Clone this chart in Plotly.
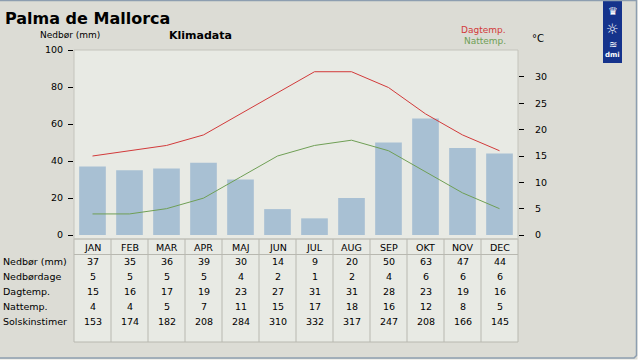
import plotly.graph_objects as go

months = ["JAN", "FEB", "MAR", "APR", "MAJ", "JUN", "JUL", "AUG", "SEP", "OKT", "NOV", "DEC"]
precip = [37, 35, 36, 39, 30, 14, 9, 20, 50, 63, 47, 44]
rain_days = [5, 5, 5, 5, 4, 2, 1, 2, 4, 6, 6, 6]
day_temp = [15, 16, 17, 19, 23, 27, 31, 31, 28, 23, 19, 16]
night_temp = [4, 4, 5, 7, 11, 15, 17, 18, 16, 12, 8, 5]
sunshine = [153, 174, 182, 208, 284, 310, 332, 317, 247, 208, 166, 145]
row_labels = ["Nedbør (mm)", "Nedbørdage", "Dagtemp.", "Nattemp.", "Solskinstimer"]
left_ticks = [0, 20, 40, 60, 80, 100]
right_ticks = [0, 5, 10, 15, 20, 25, 30]

W, H = 639, 360
L, R, T, B = 74, 518, 50, 239
BG = "#dcdcd5"
PBG = "#e8eae4"
FONT = "DejaVu Sans"
FS = 9.5


def px(x):
    return (x - L) / (R - L)


def py(y):
    return (B - y) / (B - T)


fig = go.Figure()
fig.add_trace(go.Bar(x=months, y=precip, marker=dict(color="#a8c0d3", line=dict(width=0)),
                     width=0.72, yaxis="y", showlegend=False))
fig.add_trace(go.Scatter(x=months, y=day_temp, mode="lines", line=dict(color="#d23a3a", width=1),
                         yaxis="y2", showlegend=False))
fig.add_trace(go.Scatter(x=months, y=night_temp, mode="lines", line=dict(color="#6f9f55", width=1),
                         yaxis="y2", showlegend=False))

shapes = []
annotations = []

# plot frame
shapes.append(dict(type="rect", xref="paper", yref="paper", x0=0, x1=1, y0=0, y1=1,
                   line=dict(color="#c4c4bc", width=1), layer="above"))

# table
tb_top, tb_head, tb_bot = 239, 254.5, 342
shapes.append(dict(type="rect", xref="paper", yref="paper", x0=0, x1=1, y0=py(tb_bot), y1=py(tb_top),
                   fillcolor=PBG, line=dict(color="#b8b8b0", width=1), layer="below"))
shapes.append(dict(type="line", xref="paper", yref="paper", x0=0, x1=1, y0=py(tb_head), y1=py(tb_head),
                   line=dict(color="#b8b8b0", width=1)))
for k in range(1, len(months)):
    shapes.append(dict(type="line", xref="x", yref="paper", x0=k - 0.5, x1=k - 0.5,
                       y0=py(tb_bot), y1=py(tb_top), line=dict(color="#b8b8b0", width=1)))

tf = dict(family=FONT, size=FS, color="#000000")
for i, m in enumerate(months):
    annotations.append(dict(x=m, xref="x", y=py(247), yref="paper", text=m, showarrow=False,
                            font=tf, xanchor="center", yanchor="middle"))
rows = [precip, rain_days, day_temp, night_temp, sunshine]
row_y = [261.5, 276.3, 291, 306, 321]
for label, vals, yy in zip(row_labels, rows, row_y):
    annotations.append(dict(x=px(1), xref="paper", y=py(yy), yref="paper", text=label, showarrow=False,
                            font=tf, xanchor="left", yanchor="middle"))
    for m, v in zip(months, vals):
        annotations.append(dict(x=m, xref="x", y=py(yy), yref="paper", text=str(v), showarrow=False,
                                font=tf, xanchor="center", yanchor="middle"))

# titles
annotations.append(dict(x=px(3), xref="paper", y=py(18), yref="paper", text="<b>Palma de Mallorca</b>",
                        showarrow=False, font=dict(family=FONT, size=16, color="#000"),
                        xanchor="left", yanchor="middle"))
annotations.append(dict(x=px(200), xref="paper", y=py(35), yref="paper", text="<b>Klimadata</b>",
                        showarrow=False, font=dict(family=FONT, size=11, color="#000"),
                        xanchor="center", yanchor="middle"))
annotations.append(dict(x=px(70), xref="paper", y=py(35), yref="paper", text="Nedbør (mm)",
                        showarrow=False, font=dict(family=FONT, size=9, color="#000"),
                        xanchor="center", yanchor="middle"))
annotations.append(dict(x=px(507), xref="paper", y=py(30.5), yref="paper", text="Dagtemp.",
                        showarrow=False, font=dict(family=FONT, size=9, color="#d23a3a"),
                        xanchor="right", yanchor="middle", borderpad=0))
annotations.append(dict(x=px(507), xref="paper", y=py(41), yref="paper", text="Nattemp.",
                        showarrow=False, font=dict(family=FONT, size=9, color="#6f9f55"),
                        xanchor="right", yanchor="middle", borderpad=0))
annotations.append(dict(x=px(538), xref="paper", y=py(38), yref="paper", text="°C",
                        showarrow=False, font=dict(family=FONT, size=10, color="#000"),
                        xanchor="center", yanchor="middle"))

# DMI logo
shapes.append(dict(type="rect", xref="paper", yref="paper", x0=px(603), x1=px(622), y0=py(63), y1=py(-1),
                   fillcolor="#15338c", line=dict(width=0)))
for sym, yy, sz in [("♛", 12, 11), ("☼", 29, 14), ("≋", 45, 10), ("<b>dmi</b>", 55, 7)]:
    annotations.append(dict(x=px(612.5), xref="paper", y=py(yy), yref="paper", text=sym, showarrow=False,
                            font=dict(family=FONT, size=sz, color="#ffffff"),
                            xanchor="center", yanchor="middle"))

# outer frame + white outside strip
shapes.append(dict(type="rect", xref="paper", yref="paper", x0=px(637.5), x1=px(645), y0=py(365), y1=py(-5),
                   fillcolor="#ffffff", line=dict(width=0)))
shapes.append(dict(type="rect", xref="paper", yref="paper", x0=px(-5), x1=px(645), y0=py(365), y1=py(359.5),
                   fillcolor="#ffffff", line=dict(width=0)))
shapes.append(dict(type="path", xref="paper", yref="paper",
                   path=f"M {px(-2)} {py(358)} L {px(634)} {py(358)} L {px(636.5)} {py(355.5)} "
                        f"L {px(636.5)} {py(0.5)} L {px(-2)} {py(0.5)}",
                   line=dict(color="#8d9eb0", width=1.5)))

fig.update_layout(
    width=W, height=H,
    margin=dict(l=L, r=W - R, t=T, b=H - B),
    paper_bgcolor=BG, plot_bgcolor=PBG,
    font=dict(family=FONT, size=FS, color="#000"),
    bargap=0.28,
    hovermode=False,
    xaxis=dict(type="category", range=[-0.5, 11.5], showticklabels=False, ticks="",
               showgrid=False, zeroline=False, showline=False),
    yaxis=dict(range=[-(B - 235) / 1.85, 100], tickvals=left_ticks, ticks="outside", ticklen=5,
               tickcolor="#000", tickwidth=1, showgrid=False, zeroline=False, showline=False,
               tickfont=dict(family=FONT, size=FS, color="#000"), ticklabelstandoff=3),
    yaxis2=dict(range=[-(B - 235) / 5.267, (235 - T) / 5.267], tickvals=right_ticks, overlaying="y",
                side="right", ticks="outside", ticklen=5, tickcolor="#000", tickwidth=1,
                showgrid=False, zeroline=False, showline=False,
                tickfont=dict(family=FONT, size=FS, color="#000"), ticklabelstandoff=9),
    shapes=shapes,
    annotations=annotations,
)

fig.write_html("out.html", config={"displayModeBar": False},
               post_script="document.body.style.margin='0';document.body.style.padding='0';")
